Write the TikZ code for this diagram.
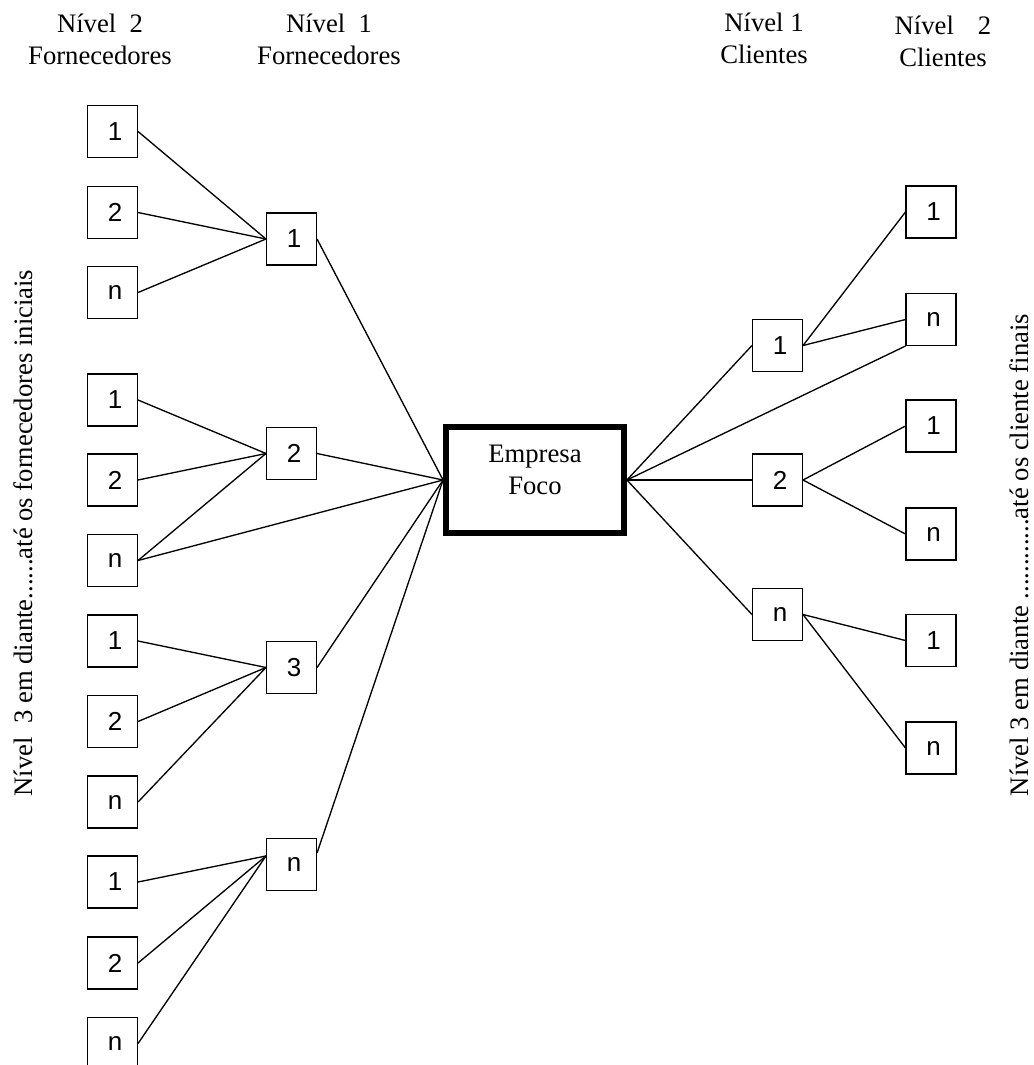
\documentclass[tikz,border=0pt]{standalone}
\usepackage{fontspec}
\setmainfont{Liberation Serif}
\newfontfamily\boxfont{Liberation Sans}
\begin{document}
\begin{tikzpicture}[x=0.75pt,y=-0.75pt,
  member/.style={draw, line width=1pt, minimum width=37.3pt, minimum height=38.8pt,
    inner sep=0pt, font=\boxfont\fontsize{19.5}{21}\selectfont,
    execute at begin node={\hspace*{4pt}}},
  focal/.style={draw, line width=4.2pt, minimum width=133.7pt, minimum height=79.7pt,
    inner sep=0pt},
  head/.style={align=center, inner sep=0pt, font=\fontsize{20}{24}\selectfont},
  side/.style={rotate=90, anchor=base, inner sep=0pt, font=\fontsize{20}{24}\selectfont},
  link/.style={line width=1pt}]
\useasboundingbox (0,0) rectangle (1034,1065);
\clip (0,0) rectangle (1034,1065);

% column headings
\node[head] (hsup2) at (100,39) {Nível\ \ 2\\Fornecedores};
\node[head] (hsup1) at (329,39) {Nível\ \ 1\\Fornecedores};
\node[head] (hcli1) at (764,38) {Nível 1\\Clientes};
\node[head] (hcli2) at (943,41) {Nível\hspace{0.9em}2\\Clientes};

% side captions
\node[side] (lside) at (32,533) {Nível\ \ 3 em diante......até os fornecedores iniciais};
\node[side] (rside) at (1028,555) {Nível 3 em diante ............até os cliente finais};

% focal company
\node[focal] (foco) at (535,480) {};
\node[head] (focotxt) at (535,470) {Empresa\\Foco};

% tier-2 suppliers
\node[member] (a1) at (112.5,131.5) {1};
\node[member] (a2) at (112.5,212.5) {2};
\node[member] (an) at (112.5,292.5) {n};
\node[member] (b1) at (112.5,400) {1};
\node[member] (b2) at (112.5,480) {2};
\node[member] (bn) at (112.5,560.5) {n};
\node[member] (c1) at (112.5,641) {1};
\node[member] (c2) at (112.5,721.5) {2};
\node[member] (cn) at (112.5,802) {n};
\node[member] (d1) at (112.5,882) {1};
\node[member] (d2) at (112.5,963) {2};
\node[member] (dn) at (112.5,1043.5) {n};

% tier-1 suppliers
\node[member] (s1) at (291.5,239) {1};
\node[member] (s2) at (291.5,453.5) {2};
\node[member] (s3) at (291.5,667.5) {3};
\node[member] (sn) at (291.5,864.5) {n};

% tier-1 customers
\node[member] (k1) at (777.5,345.5) {1};
\node[member] (k2) at (777.5,480) {2};
\node[member] (kn) at (777.5,614.5) {n};

% tier-2 customers
\node[member] (k1a) at (931,212) {1};
\node[member] (k1b) at (931,319.5) {n};
\node[member] (k2a) at (931,426) {1};
\node[member] (k2b) at (931,534) {n};
\node[member] (kna) at (931,640.5) {1};
\node[member] (knb) at (931,748) {n};

% supplier links
\draw[link] (a1.east) -- (s1.west);
\draw[link] (a2.east) -- (s1.west);
\draw[link] (an.east) -- (s1.west);
\draw[link] (b1.east) -- (s2.west);
\draw[link] (b2.east) -- (s2.west);
\draw[link] (bn.east) -- (s2.west);
\draw[link] (bn.east) -- (foco.west);
\draw[link] (c1.east) -- (s3.west);
\draw[link] (c2.east) -- (s3.west);
\draw[link] (cn.east) -- (s3.west);
\draw[link] (d1.east) -- ([yshift=6.4pt]sn.west);
\draw[link] (d2.east) -- ([yshift=6.4pt]sn.west);
\draw[link] (dn.east) -- ([yshift=6.4pt]sn.west);
\draw[link] (s1.east) -- (foco.west);
\draw[link] (s2.east) -- (foco.west);
\draw[link] (s3.east) -- (foco.west);
\draw[link] ([yshift=8.6pt]sn.east) -- (foco.west);

% customer links
\draw[link] (foco.east) -- (k1.west);
\draw[link] (foco.east) -- (k1b.south west);
\draw[link] (foco.east) -- (k2.west);
\draw[link] (foco.east) -- (kn.west);
\draw[link] (k1.east) -- (k1a.west);
\draw[link] (k1.east) -- (k1b.west);
\draw[link] (k2.east) -- (k2a.west);
\draw[link] (k2.east) -- (k2b.west);
\draw[link] (kn.east) -- (kna.west);
\draw[link] (kn.east) -- (knb.west);
\end{tikzpicture}
\end{document}
